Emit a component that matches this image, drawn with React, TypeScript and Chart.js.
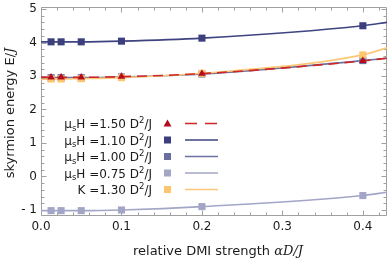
import React, { useEffect, useRef } from 'react';
import { Chart, registerables } from 'chart.js';
Chart.register(...registerables);

// ---- data ----
const xValues = [0.0125, 0.025, 0.05, 0.1, 0.2, 0.4];
const e150 = [2.96, 2.96, 2.96, 2.98, 3.07, 3.45];
const e110 = [4.02, 4.02, 4.02, 4.04, 4.13, 4.5];
const e100 = [2.95, 2.95, 2.95, 2.97, 3.06, 3.46];
const e075 = [-1.02, -1.02, -1.02, -1.0, -0.9, -0.57];
const eK130 = [2.91, 2.91, 2.92, 2.95, 3.08, 3.63];
// fitted curves: values at the plot's left (x=0) and right (x=0.43) edges
const curveEdgeX = [0, 0.43];
const c150Edges = [2.96, 3.53];
const c110Edges = [4.02, 4.6];
const c100Edges = [2.95, 3.53];
const c075Edges = [-1.02, -0.47];
const cK130Edges = [2.9, 3.84];

const xTicks = [0, 0.1, 0.2, 0.3, 0.4];
const xTickLabels = ['0.0', '0.1', '0.2', '0.3', '0.4'];
const yTicks = [-1, 0, 1, 2, 3, 4, 5];
const yTickLabels = ['- 1', '0', '1', '2', '3', '4', '5'];
const legendValues = ['1.50', '1.10', '1.00', '0.75', '1.30'];

const FONT = "'DejaVu Sans', sans-serif";

type Series = {
  values: number[];
  edges: number[];
  marker: string;
  line: string;
  dash: number[];
  style: 'rect' | 'triangle';
  order: number;
};

const series: Series[] = [
  { values: e150, edges: c150Edges, marker: '#b30c1c', line: '#cf2626', dash: [10, 6], style: 'triangle', order: 0 },
  { values: e110, edges: c110Edges, marker: '#3b3f7e', line: '#3f4381', dash: [], style: 'rect', order: 1 },
  { values: e100, edges: c100Edges, marker: '#6a6e9e', line: '#6e72a2', dash: [], style: 'rect', order: 3 },
  { values: e075, edges: c075Edges, marker: '#a2a5c5', line: '#a3a6c6', dash: [], style: 'rect', order: 4 },
  { values: eK130, edges: cK130Edges, marker: '#fdc66e', line: '#fcc878', dash: [], style: 'rect', order: 2 },
];

function buildPoints(s: Series) {
  const pts = [{ x: curveEdgeX[0], y: s.edges[0] }];
  xValues.forEach((x, i) => pts.push({ x, y: s.values[i] }));
  pts.push({ x: curveEdgeX[1], y: s.edges[1] });
  return pts;
}

type Seg = { t: string; size: number; dy: number; italic?: boolean; serif?: boolean };
const fontOf = (s: Seg) => `${s.italic ? 'italic ' : ''}${s.size}px ${s.serif ? "'DejaVu Serif', serif" : FONT}`;

function richWidth(ctx: CanvasRenderingContext2D, segs: Seg[]) {
  let total = 0;
  segs.forEach((s) => { ctx.font = fontOf(s); total += ctx.measureText(s.t).width; });
  return total;
}

function drawRich(ctx: CanvasRenderingContext2D, segs: Seg[], xRight: number, baseline: number) {
  let x = xRight - richWidth(ctx, segs);
  ctx.textAlign = 'left';
  ctx.textBaseline = 'alphabetic';
  segs.forEach((s) => {
    ctx.font = fontOf(s);
    ctx.fillText(s.t, x, baseline + s.dy);
    x += ctx.measureText(s.t).width;
  });
}

const decorPlugin = {
  id: 'decor',
  beforeDatasetsDraw(chart: any) {
    const { ctx, chartArea: a, scales } = chart;
    const xs = scales.x, ys = scales.y;
    ctx.save();
    ctx.strokeStyle = '#a0a0a0';
    ctx.lineWidth = 1;
    const L = Math.round(a.left) + 0.5, R = Math.round(a.right) - 0.5, T = Math.round(a.top) + 0.5, B = Math.round(a.bottom) - 0.5;
    ctx.beginPath();
    ctx.rect(L, T, R - L, B - T);
    ctx.stroke();
    ctx.beginPath();
    for (let k = 0; k <= 21; k++) {
      const v = k * 0.02;
      const len = k % 5 === 0 ? 5 : 3;
      const px = Math.round(xs.getPixelForValue(v)) + 0.5;
      if (px > R) continue;
      ctx.moveTo(px, B); ctx.lineTo(px, B - len);
      ctx.moveTo(px, T); ctx.lineTo(px, T + len);
    }
    for (let k = -5; k <= 25; k++) {
      const v = k * 0.2;
      const len = k % 5 === 0 ? 5 : 3;
      const py = Math.round(ys.getPixelForValue(v)) + 0.5;
      if (py < T || py > B) continue;
      ctx.moveTo(L, py); ctx.lineTo(L + len, py);
      ctx.moveTo(R, py); ctx.lineTo(R - len, py);
    }
    ctx.stroke();
    ctx.restore();
  },
  afterDraw(chart: any) {
    const { ctx, chartArea: a, scales } = chart;
    const xs = scales.x, ys = scales.y;
    ctx.save();
    ctx.fillStyle = '#1a1a1a';
    ctx.font = `12px ${FONT}`;
    ctx.textAlign = 'right';
    ctx.textBaseline = 'middle';
    yTicks.forEach((v, i) => ctx.fillText(yTickLabels[i], a.left - 4, ys.getPixelForValue(v)));
    ctx.textAlign = 'center';
    xTicks.forEach((v, i) => ctx.fillText(xTickLabels[i], xs.getPixelForValue(v), 227));
    // x title
    const xt: Seg[] = [
      { t: 'relative DMI strength ', size: 13, dy: 0 },
      { t: 'αD/J', size: 13, dy: 0, italic: true, serif: true },
    ];
    drawRich(ctx, xt, 218 + richWidth(ctx, xt) / 2, 255);
    // y title
    ctx.save();
    ctx.translate(14, 113);
    ctx.rotate(-Math.PI / 2);
    const yt: Seg[] = [
      { t: 'skyrmion energy E/', size: 13, dy: 0 },
      { t: 'J', size: 13, dy: 0, italic: true, serif: true },
    ];
    drawRich(ctx, yt, richWidth(ctx, yt) / 2, 0);
    ctx.restore();

    // legend
    const rows = [123.5, 140, 156.5, 173, 189.5];
    series.forEach((s, si) => {
      const cy = rows[si];
      ctx.fillStyle = '#1a1a1a';
      const segs: Seg[] = si < 4
        ? [
            { t: 'μ', size: 12, dy: 0 },
            { t: 's', size: 8.5, dy: 2.5 },
            { t: 'H =' + legendValues[si] + ' D', size: 12, dy: 0 },
            { t: '2', size: 8.5, dy: -5 },
            { t: '/J', size: 12, dy: 0 },
          ]
        : [
            { t: 'K =' + legendValues[si] + ' D', size: 12, dy: 0 },
            { t: '2', size: 8.5, dy: -5 },
            { t: '/J', size: 12, dy: 0 },
          ];
      drawRich(ctx, segs, 152, cy + 4.5);
      ctx.fillStyle = s.marker;
      if (s.style === 'rect') {
        ctx.fillRect(164, cy - 3.5, 7, 7);
      } else {
        ctx.beginPath();
        ctx.moveTo(167.5, cy - 4);
        ctx.lineTo(171.5, cy + 3);
        ctx.lineTo(163.5, cy + 3);
        ctx.closePath();
        ctx.fill();
      }
      ctx.strokeStyle = s.line;
      ctx.lineWidth = 1.6;
      ctx.setLineDash(s.dash.length ? [12, 8] : []);
      ctx.beginPath();
      ctx.moveTo(185, cy);
      ctx.lineTo(218, cy);
      ctx.stroke();
      ctx.setLineDash([]);
    });
    ctx.restore();
  },
};

export default function App() {
  const ref = useRef<HTMLCanvasElement>(null);
  useEffect(() => {
    const canvas = ref.current!;
    const chart = new Chart(canvas, {
      type: 'line',
      data: {
        datasets: series.map((s) => {
          const pts = buildPoints(s);
          return {
            data: pts,
            borderColor: s.line,
            borderWidth: 1.6,
            borderDash: s.dash,
            backgroundColor: s.marker,
            pointBackgroundColor: s.marker,
            pointBorderWidth: 0,
            pointStyle: s.style,
            pointRadius: pts.map((_, i) => (i === 0 || i === pts.length - 1 ? 0 : s.style === 'rect' ? 5 : 4.4)),
            cubicInterpolationMode: 'monotone',
            order: s.order,
            fill: false,
          };
        }),
      } as any,
      options: {
        responsive: false,
        animation: false,
        devicePixelRatio: 1,
        layout: { padding: { top: 7, right: 3, left: 0, bottom: 0 } },
        plugins: { legend: { display: false }, tooltip: { enabled: false } },
        scales: {
          x: {
            type: 'linear',
            min: 0,
            max: 0.43,
            ticks: { display: false },
            grid: { display: false },
            border: { display: false },
            afterFit: (s: any) => { s.height = 42; },
          },
          y: {
            type: 'linear',
            min: -1.18,
            max: 5.06,
            ticks: { display: false },
            grid: { display: false },
            border: { display: false },
            afterFit: (s: any) => { s.width = 41; },
          },
        },
      } as any,
      plugins: [decorPlugin],
    });
    return () => chart.destroy();
  }, []);
  return (
    <div style={{ position: 'absolute', left: 0, top: 0, width: 390, height: 258, background: '#fff' }}>
      <canvas ref={ref} width={390} height={258} style={{ display: 'block' }} />
    </div>
  );
}
